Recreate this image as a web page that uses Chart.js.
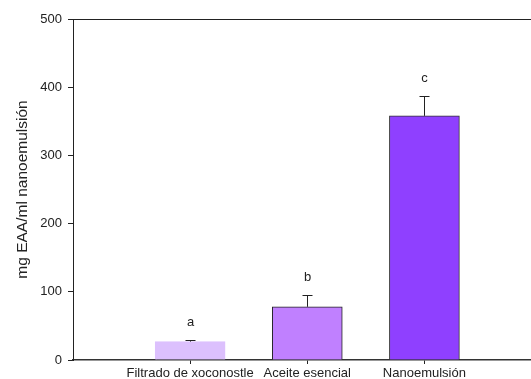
<!DOCTYPE html>
<html lang="es">
<head>
    <meta charset="UTF-8">
    <title>mg EAA/ml nanoemulsión</title>
    <script src="https://cdn.jsdelivr.net/npm/chart.js"></script>
    <style>
        html, body { margin: 0; padding: 0; background: #fff; }
        #wrap { width: 531px; height: 379px; }
    </style>
</head>
<body>
    <div id="wrap"><canvas id="chart"></canvas></div>

    <script>
        const categories = ['Filtrado de xoconostle', 'Aceite esencial', 'Nanoemulsión'];
        const positions = [1, 2, 3];
        const values = [27, 78, 358];
        const errors = [2.5, 17, 29];
        const letters = ['a', 'b', 'c'];
        const yTicks = [0, 100, 200, 300, 400, 500];
        const barColors = ['#dcc0fd', '#c080ff', '#8f40ff'];
        const borderColors = ['#dcc0fd', '#222222', '#333333'];

        const FONT = "'Liberation Sans', Arial, sans-serif";

        // upper error bars and significance letters
        const errorBars = {
            id: 'errorBars',
            afterDatasetsDraw(chart) {
                const ctx = chart.ctx;
                const xs = chart.scales.x, ys = chart.scales.y;
                ctx.save();
                ctx.strokeStyle = '#222';
                ctx.lineWidth = 1;
                ctx.fillStyle = '#222';
                ctx.font = '13px ' + FONT;
                ctx.textAlign = 'center';
                ctx.textBaseline = 'middle';
                positions.forEach((p, i) => {
                    const x = Math.round(xs.getPixelForValue(p)) + 0.5;
                    const y0 = ys.getPixelForValue(values[i]);
                    const y1 = Math.round(ys.getPixelForValue(values[i] + errors[i])) + 0.5;
                    ctx.beginPath();
                    ctx.moveTo(x, y0);
                    ctx.lineTo(x, y1);
                    ctx.moveTo(x - 5, y1);
                    ctx.lineTo(x + 5, y1);
                    ctx.stroke();
                    ctx.fillText(letters[i], x, y1 - 18);
                });
                // top frame line
                const a = chart.chartArea;
                ctx.beginPath();
                ctx.moveTo(a.left, Math.round(a.top) + 0.5);
                ctx.lineTo(a.right, Math.round(a.top) + 0.5);
                ctx.stroke();
                ctx.restore();
            }
        };

        new Chart(document.getElementById('chart'), {
            type: 'bar',
            data: {
                datasets: [{
                    data: positions.map((p, i) => ({ x: p, y: values[i] })),
                    backgroundColor: barColors,
                    borderColor: borderColors,
                    borderWidth: 1,
                    borderSkipped: 'bottom',
                    barThickness: 70
                }]
            },
            options: {
                responsive: true,
                maintainAspectRatio: false,
                animation: false,
                layout: { padding: { top: 19, right: 0, left: 0, bottom: 0 } },
                plugins: { legend: { display: false }, tooltip: { enabled: false } },
                scales: {
                    x: {
                        type: 'linear',
                        min: 0,
                        max: 3.91,
                        offset: false,
                        afterBuildTicks: s => { s.ticks = positions.map(v => ({ value: v })); },
                        afterFit: s => { s.height = 19; },
                        ticks: {
                            autoSkip: false,
                            maxRotation: 0,
                            padding: 2,
                            color: '#222',
                            font: { family: FONT, size: 13 },
                            callback: v => categories[positions.indexOf(v)] ?? ''
                        },
                        grid: { offset: false, drawOnChartArea: false, tickLength: 4, color: '#222' },
                        border: { color: '#333', width: 1.5 }
                    },
                    y: {
                        min: 0,
                        max: 500,
                        afterBuildTicks: s => { s.ticks = yTicks.map(v => ({ value: v })); },
                        afterFit: s => { s.width = 73; },
                        ticks: {
                            padding: 6,
                            color: '#222',
                            font: { family: FONT, size: 13 }
                        },
                        grid: { drawOnChartArea: false, tickLength: 5, color: '#222' },
                        border: { color: '#222', width: 1 },
                        title: {
                            display: true,
                            text: 'mg EAA/ml nanoemulsión',
                            color: '#222',
                            font: { family: FONT, size: 15.5 },
                            padding: { top: 13, bottom: 0 }
                        }
                    }
                }
            },
            plugins: [errorBars]
        });
    </script>
</body>
</html>
